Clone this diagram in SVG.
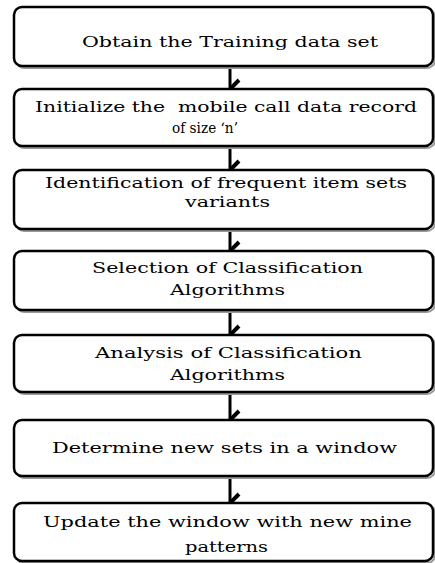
<svg xmlns="http://www.w3.org/2000/svg" width="435" height="563" viewBox="0 0 435 563">
<style>
.box{fill:#fff;stroke:#000;stroke-width:2.5}
.sh{fill:none;stroke:#999;stroke-width:2}
.t{font-family:"DejaVu Serif","Liberation Serif","Times New Roman",serif;font-size:14px;fill:#000}
.c{stroke:#000;stroke-width:3;fill:none}
</style>
<defs>
<marker id="ah" markerUnits="userSpaceOnUse" viewBox="0 0 20 12" refX="10" refY="11" markerWidth="20" markerHeight="12" orient="auto-start-reverse">
<path d="M2,2 L10,10 L18,2" fill="none" stroke="#000" stroke-width="4"/>
</marker>
</defs>
<g id="connectors">
<line class="c" x1="230" y1="67" x2="230" y2="88" marker-end="url(#ah)"/>
<line class="c" x1="230" y1="147" x2="230" y2="169" marker-end="url(#ah)"/>
<line class="c" x1="230" y1="230" x2="230" y2="250" marker-end="url(#ah)"/>
<line class="c" x1="230" y1="311" x2="230" y2="334" marker-end="url(#ah)"/>
<line class="c" x1="230" y1="393" x2="230" y2="419" marker-end="url(#ah)"/>
<line class="c" x1="230" y1="477" x2="230" y2="502" marker-end="url(#ah)"/>
</g>
<g id="n1">
<rect class="sh" x="16" y="9" width="419" height="59" rx="8"/>
<rect class="box" x="14" y="7" width="419" height="59" rx="8"/>
<text class="t" x="82" y="47" textLength="296" lengthAdjust="spacingAndGlyphs">Obtain the Training data set</text>
</g>
<g id="n2">
<rect class="sh" x="16" y="91" width="419" height="57" rx="8"/>
<rect class="box" x="14" y="89" width="419" height="57" rx="8"/>
<text class="t" x="35" y="112" textLength="382" lengthAdjust="spacingAndGlyphs" xml:space="preserve">Initialize the  mobile call data record</text>
<text class="t" x="172" y="133" textLength="66" lengthAdjust="spacingAndGlyphs">of size ‘n’</text>
</g>
<g id="n3">
<rect class="sh" x="16" y="172" width="419" height="59" rx="8"/>
<rect class="box" x="14" y="170" width="419" height="59" rx="8"/>
<text class="t" x="45" y="188" textLength="362" lengthAdjust="spacingAndGlyphs">Identification of frequent item sets</text>
<text class="t" x="185" y="207" textLength="85" lengthAdjust="spacingAndGlyphs">variants</text>
</g>
<g id="n4">
<rect class="sh" x="16" y="253" width="419" height="59" rx="8"/>
<rect class="box" x="14" y="251" width="419" height="59" rx="8"/>
<text class="t" x="92" y="273" textLength="271" lengthAdjust="spacingAndGlyphs">Selection of Classification</text>
<text class="t" x="170" y="295" textLength="115" lengthAdjust="spacingAndGlyphs">Algorithms</text>
</g>
<g id="n5">
<rect class="sh" x="16" y="337" width="419" height="57" rx="8"/>
<rect class="box" x="14" y="335" width="419" height="57" rx="8"/>
<text class="t" x="95" y="358" textLength="267" lengthAdjust="spacingAndGlyphs">Analysis of Classification</text>
<text class="t" x="170" y="380" textLength="115" lengthAdjust="spacingAndGlyphs">Algorithms</text>
</g>
<g id="n6">
<rect class="sh" x="16" y="422" width="419" height="56" rx="8"/>
<rect class="box" x="14" y="420" width="419" height="56" rx="8"/>
<text class="t" x="52" y="453" textLength="345" lengthAdjust="spacingAndGlyphs">Determine new sets in a window</text>
</g>
<g id="n7">
<rect class="sh" x="16" y="505" width="419" height="58" rx="8"/>
<rect class="box" x="14" y="503" width="419" height="58" rx="8"/>
<text class="t" x="43" y="527" textLength="369" lengthAdjust="spacingAndGlyphs">Update the window with new mine</text>
<text class="t" x="185" y="552" textLength="83" lengthAdjust="spacingAndGlyphs">patterns</text>
</g>
</svg>
